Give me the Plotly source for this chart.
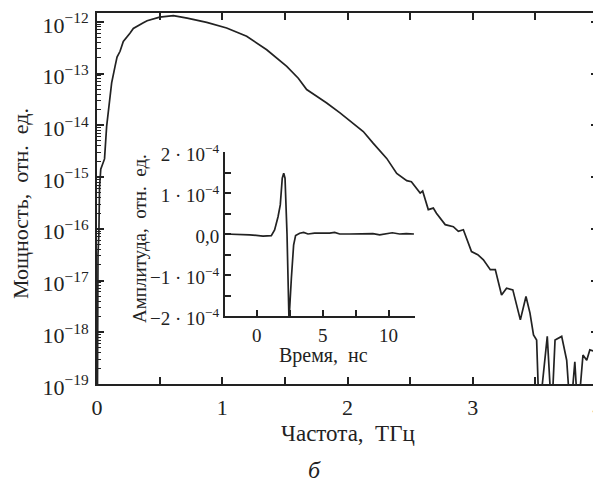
import plotly.graph_objects as go

# ---- main spectrum: frequency (THz) and log10 of power (rel. units) ----
freq_thz = [0.003, 0.008, 0.015, 0.02, 0.03, 0.045, 0.06, 0.077, 0.09, 0.104, 0.117,
            0.144, 0.16, 0.184, 0.21, 0.263, 0.29, 0.37, 0.40, 0.50, 0.61, 0.72,
            0.876, 1.035, 1.195, 1.355, 1.515, 1.607, 1.674, 1.754, 1.834, 1.94,
            2.046, 2.126, 2.206, 2.313, 2.393, 2.473, 2.51, 2.54, 2.58, 2.60,
            2.645, 2.685, 2.71, 2.78, 2.845, 2.885, 2.925, 2.99, 3.04, 3.085,
            3.14, 3.18, 3.23, 3.27, 3.32, 3.38, 3.425, 3.457, 3.485, 3.51, 3.53,
            3.595, 3.63, 3.657, 3.71, 3.75, 3.78, 3.815, 3.84, 3.88, 3.91, 3.935,
            3.975, 4.0]
power_log10 = [-19.6, -16.5, -16.1, -15.2, -14.85, -14.75, -14.65, -14.02, -13.70, -13.38, -13.18,
               -12.86, -12.68, -12.57, -12.38, -12.22, -12.13, -12.02, -11.98, -11.91, -11.88, -11.93,
               -12.01, -12.12, -12.28, -12.54, -12.86, -13.09, -13.31, -13.44, -13.57, -13.76,
               -13.96, -14.12, -14.35, -14.64, -14.93, -15.07, -15.09, -15.18, -15.31, -15.27,
               -15.63, -15.60, -15.70, -15.92, -15.96, -16.05, -16.02, -16.44, -16.50, -16.60,
               -16.79, -16.79, -17.28, -17.15, -17.18, -17.76, -17.31, -17.63, -18.05, -18.15, -19.6,
               -18.08, -19.6, -18.15, -18.08, -18.54, -19.6, -18.57, -19.6, -18.44, -18.54, -18.34,
               -18.37, -18.30]

# ---- inset: time-domain pulse (ns) and amplitude (units of 1e-4) ----
time_ns = [-2.4, -0.53, 0.48, 1.11, 1.36, 1.62, 1.79, 1.94, 2.05, 2.15, 2.30, 2.45,
           2.63, 2.80, 2.95, 3.26, 3.56, 3.89, 4.39, 5.03, 5.53, 5.91, 6.29, 7.05,
           7.80, 8.81, 9.32, 9.83, 10.28, 10.83, 11.34, 11.92]
amp_e4 = [0.0, -0.02, -0.05, -0.04, 0.10, 0.42, 0.71, 1.36, 1.48, 1.36, 0.0, -2.1,
          -1.08, -0.27, -0.04, 0.02, 0.04, 0.0, 0.02, 0.01, 0.02, 0.04, 0.0, 0.0,
          0.01, 0.01, -0.02, 0.0, 0.03, 0.0, 0.01, 0.0]

# tick labels
x_tickvals = [0, 0.5, 1, 1.5, 2, 2.5, 3, 3.5, 4]
x_ticktext = ["0", "", "1", "", "2", "", "3", "", "4"]
y_exponents = [-19, -18, -17, -16, -15, -14, -13, -12]
y_ticktext = ["10<sup>\u2212%d</sup>" % (-e) for e in y_exponents]
inset_x_tickvals = [0, 2.5, 5, 7.5, 10]
inset_x_ticktext = ["0", "", "5", "", "10"]
inset_y_tickvals = [-2, -1.5, -1, -0.5, 0, 0.5, 1, 1.5, 2]
DOT = " \u00b7 "
inset_y_ticktext = ["\u22122" + DOT + "10<sup>\u22124</sup>", "",
                    "\u22121" + DOT + "10<sup>\u22124</sup>", "",
                    "0,0", "",
                    "1" + DOT + "10<sup>\u22124</sup>", "",
                    "2" + DOT + "10<sup>\u22124</sup>"]

power = [10 ** v for v in power_log10]
amp = [v * 1e-4 for v in amp_e4]
y_tickvals = [10.0 ** e for e in y_exponents]

INK = "#222222"
FONT = "Liberation Serif"

fig = go.Figure()
fig.add_trace(go.Scatter(x=freq_thz, y=power, mode="lines",
                         line=dict(color=INK, width=1.7), xaxis="x", yaxis="y",
                         showlegend=False))
fig.add_trace(go.Scatter(x=time_ns, y=amp, mode="lines",
                         line=dict(color=INK, width=1.7), xaxis="x2", yaxis="y2",
                         showlegend=False))

# page has an 8 px body margin; positions below are given in window pixels
OFF = 8
W, H = 601 - OFF, 484 - OFF
L, T = 97 - OFF, 13 - OFF
R = W - (598 - OFF)
B = H - (384 - OFF)
pw, ph = W - L - R, H - T - B


def px_x(px):
    return (px - OFF - L) / pw


def px_y(py):
    return (H - B - (py - OFF)) / ph


fig.update_layout(
    width=W, height=H,
    margin=dict(l=L, r=R, t=T, b=B, pad=0, autoexpand=False),
    paper_bgcolor="white", plot_bgcolor="rgba(0,0,0,0)",
    font=dict(family=FONT, size=22, color=INK),
    xaxis=dict(domain=[0, 1], range=[0, 4], tickmode="array",
               tickvals=x_tickvals, ticktext=x_ticktext,
               ticks="inside", ticklen=7, tickwidth=1.6, tickcolor=INK,
               showline=True, linewidth=2, linecolor=INK, mirror="allticks",
               showgrid=False, zeroline=False, ticklabelstandoff=3, automargin=False,
               ticklabeloverflow="allow"),
    yaxis=dict(domain=[0, 1], type="log", range=[-19, -11.83], tickmode="array",
               tickvals=y_tickvals, ticktext=y_ticktext,
               ticks="inside", ticklen=7, tickwidth=1.6, tickcolor=INK,
               minor=dict(dtick="D1", ticks="inside",
                          ticklen=4, tickwidth=1.2, tickcolor=INK, showgrid=False),
               showline=True, linewidth=2, linecolor=INK, mirror="allticks",
               showgrid=False, zeroline=False, ticklabelstandoff=2, ticklabelshift=3,
               automargin=False, ticklabeloverflow="allow"),
    xaxis2=dict(domain=[px_x(225), px_x(415)], anchor="y2", range=[-2.4, 12],
                tickmode="array", tickvals=inset_x_tickvals, ticktext=inset_x_ticktext,
                ticks="inside", ticklen=6, tickwidth=1.6, tickcolor=INK,
                showline=True, linewidth=2, linecolor=INK, automargin=False,
                showgrid=False, zeroline=False, tickfont=dict(size=19),
                ticklabelstandoff=1, ticklabeloverflow="allow"),
    yaxis2=dict(domain=[px_y(316), px_y(152)], anchor="x2", range=[-2.0e-4, 2.0e-4],
                tickmode="array", tickvals=[v * 1e-4 for v in inset_y_tickvals],
                ticktext=inset_y_ticktext,
                ticks="inside", ticklen=6, tickwidth=1.6, tickcolor=INK,
                showline=True, linewidth=2, linecolor=INK, automargin=False,
                showgrid=False, zeroline=False, tickfont=dict(size=19),
                ticklabelshift=2, ticklabeloverflow="allow"),
    annotations=[
        dict(text="Частота,  ТГц", xref="paper", yref="paper", x=px_x(348), y=px_y(434),
             showarrow=False, xanchor="center", yanchor="middle", font=dict(size=23)),
        dict(text="Мощность,  отн.  ед.", xref="paper", yref="paper", x=px_x(20), y=px_y(204),
             showarrow=False, xanchor="center", yanchor="middle", textangle=-90,
             font=dict(size=22)),
        dict(text="Время,  нс", xref="paper", yref="paper", x=px_x(323), y=px_y(355),
             showarrow=False, xanchor="center", yanchor="middle", font=dict(size=20)),
        dict(text="Амплитуда,  отн.  ед.", xref="paper", yref="paper", x=px_x(140), y=px_y(239),
             showarrow=False, xanchor="center", yanchor="middle", textangle=-90,
             font=dict(size=19)),
        dict(text="<i>б</i>", xref="paper", yref="paper", x=px_x(314), y=px_y(470),
             showarrow=False, xanchor="center", yanchor="middle", font=dict(size=24)),
    ],
)

fig.write_html("out.html")
